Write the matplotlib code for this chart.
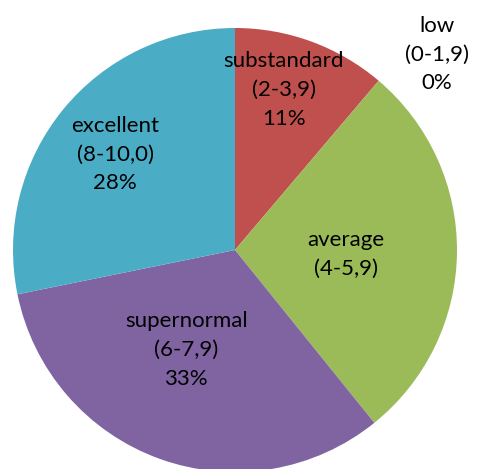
import matplotlib.pyplot as plt

categories = ["low", "substandard", "average", "supernormal", "excellent"]
ranges = ["(0-1,9)", "(2-3,9)", "(4-5,9)", "(6-7,9)", "(8-10,0)"]
shares = [0, 11.2, 28.0, 32.6, 28.2]
show_pct = [True, True, False, True, True]

colors = ["#F79646", "#C0504D", "#9BBB59", "#8064A2", "#4BACC6"]
label_pos = [(0.91, 0.88), (0.22, 0.72), (0.50, -0.02), (-0.22, -0.45), (-0.54, 0.43)]

plt.rcParams["font.family"] = ["Lato", "DejaVu Sans"]

fig = plt.figure(figsize=(4.78, 4.69), dpi=100)
W, H = 478, 469
cx, cy, r = 235, 469 - 250, 222
ax = fig.add_axes([(cx - r) / W, (cy - r) / H, 2 * r / W, 2 * r / H])

ax.pie(shares, colors=colors, startangle=90, counterclock=False, radius=1,
       wedgeprops=dict(linewidth=0))

for cat, rng, val, show, (x, y) in zip(categories, ranges, shares, show_pct, label_pos):
    txt = f"{cat}\n{rng}"
    if show:
        txt += f"\n{val:.0f}%"
    ax.text(x, y, txt, ha="center", va="center", fontsize=16, linespacing=1.55, color="black")

ax.set_xlim(-1, 1)
ax.set_ylim(-1, 1)
ax.set_aspect("equal")
ax.axis("off")

fig.savefig("out.png", dpi=100)
